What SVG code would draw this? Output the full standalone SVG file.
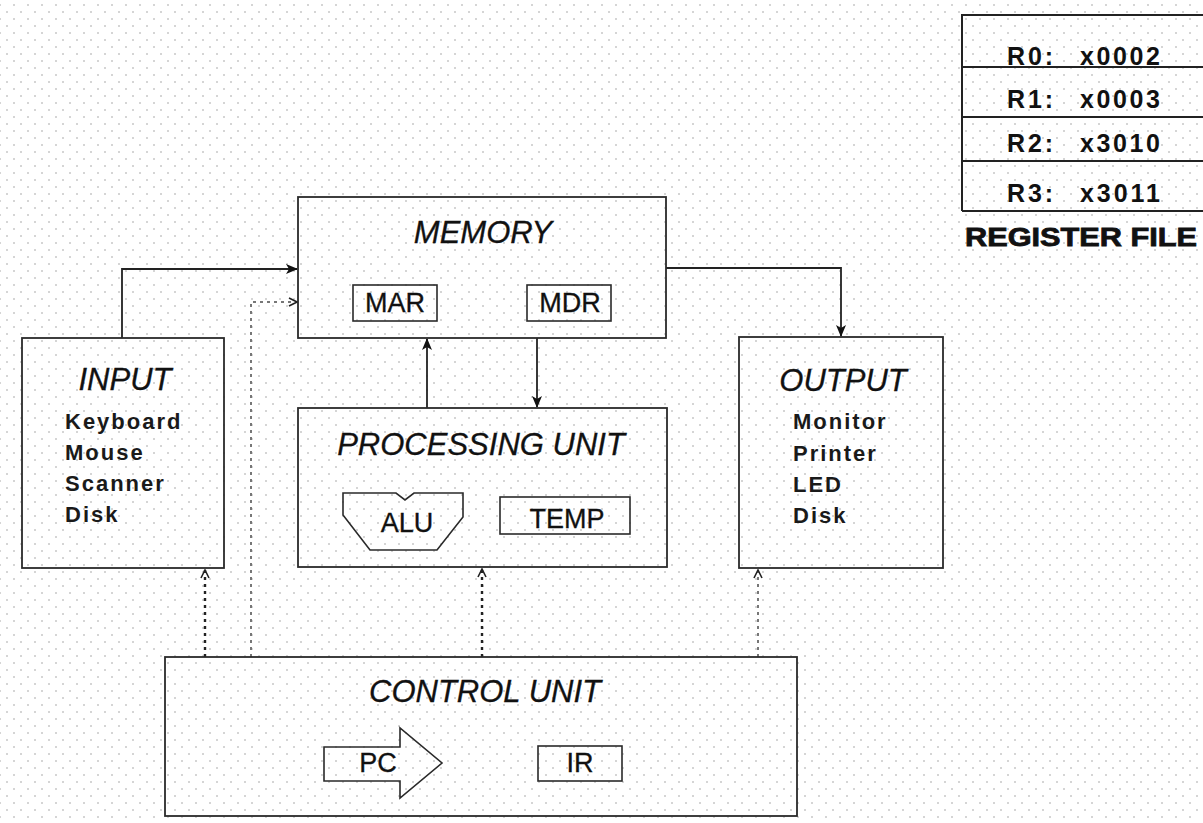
<svg xmlns="http://www.w3.org/2000/svg" width="1203" height="823" viewBox="0 0 1203 823">
<defs>
<pattern id="dots" patternUnits="userSpaceOnUse" width="14" height="14">
<rect x="-0.75" y="4.25" width="1.5" height="1.5" fill="#b4b4b4"/>
<rect x="13.25" y="4.25" width="1.5" height="1.5" fill="#b4b4b4"/>
<rect x="6.25" y="11.25" width="1.5" height="1.5" fill="#b4b4b4"/>
</pattern>
<marker id="solid" viewBox="0 0 12 10" refX="11" refY="5" markerWidth="12" markerHeight="10" markerUnits="userSpaceOnUse" orient="auto">
<path d="M0,0 L12,5 L0,10 L3,5 Z" fill="#111"/>
</marker>
<marker id="open" viewBox="0 0 10 10" refX="9" refY="5" markerWidth="10" markerHeight="10" markerUnits="userSpaceOnUse" orient="auto">
<path d="M1,1 L9,5 L1,9" fill="none" stroke="#222" stroke-width="1.6"/>
</marker>
</defs>
<style>
.box{fill:none;stroke:#2a2a2a;stroke-width:1.8}
.sub{fill:none;stroke:#2a2a2a;stroke-width:1.6}
.title{font-family:"Liberation Sans",Arial,sans-serif;font-style:italic;font-size:31px;fill:#111;text-anchor:middle;stroke:#111;stroke-width:0.3}
.lbl{font-family:"Liberation Sans",Arial,sans-serif;font-size:27px;fill:#111;text-anchor:middle;stroke:#111;stroke-width:0.3}
.list{font-family:"Liberation Sans",Arial,sans-serif;font-weight:bold;font-size:22px;fill:#1a1a1a;letter-spacing:2px}
.reg{font-family:"Liberation Sans",Arial,sans-serif;font-weight:bold;font-size:25px;fill:#111}
.conn{fill:none;stroke:#222;stroke-width:1.8}
.dot{fill:none;stroke:#222;stroke-width:2.4;stroke-dasharray:3 4}
.dotl{fill:none;stroke:#777;stroke-width:2;stroke-dasharray:3 4}
</style>
<rect width="1203" height="823" fill="#fff"/>
<rect width="1203" height="823" fill="url(#dots)"/>

<g id="connectors">
<path class="conn" d="M122,338 V269 H297" marker-end="url(#solid)"/>
<path class="conn" d="M666,268 H841 V336" marker-end="url(#solid)"/>
<path class="conn" d="M427,408 V339" marker-end="url(#solid)"/>
<path class="conn" d="M537,338 V407" marker-end="url(#solid)"/>
<path class="dot" d="M205,657 V570" marker-end="url(#open)"/>
<path class="dotl" d="M251,657 V302 H297" marker-end="url(#open)"/>
<path class="dot" d="M482,657 V569" marker-end="url(#open)"/>
<path class="dotl" d="M758,657 V570" marker-end="url(#open)"/>
</g>

<g id="register-file">
<path d="M962,211 V15 H1203 M962,67 H1203 M962,117 H1203 M962,161 H1203 M962,211 H1203" fill="none" stroke="#222" stroke-width="2"/>
<text class="reg" x="1007" y="65" textLength="46" lengthAdjust="spacing">R0:</text>
<text class="reg" x="1080" y="65" textLength="80" lengthAdjust="spacing">x0002</text>
<text class="reg" x="1007" y="108" textLength="46" lengthAdjust="spacing">R1:</text>
<text class="reg" x="1080" y="108" textLength="80" lengthAdjust="spacing">x0003</text>
<text class="reg" x="1007" y="152" textLength="46" lengthAdjust="spacing">R2:</text>
<text class="reg" x="1080" y="152" textLength="80" lengthAdjust="spacing">x3010</text>
<text class="reg" x="1007" y="202" textLength="46" lengthAdjust="spacing">R3:</text>
<text class="reg" x="1080" y="202" textLength="80" lengthAdjust="spacing">x3011</text>
<text x="965" y="246" font-family="'Liberation Sans',Arial,sans-serif" font-weight="bold" font-size="26" fill="#111" stroke="#111" stroke-width="0.8" textLength="232" lengthAdjust="spacingAndGlyphs">REGISTER FILE</text>
</g>

<g id="memory">
<rect class="box" x="298" y="197" width="368" height="141"/>
<text class="title" x="483" y="243">MEMORY</text>
<rect class="sub" x="353" y="285" width="84" height="36"/>
<text class="lbl" x="395" y="312">MAR</text>
<rect class="sub" x="527" y="285" width="84" height="36"/>
<text class="lbl" x="570" y="312">MDR</text>
</g>

<g id="input">
<rect class="box" x="22" y="338" width="202" height="230"/>
<text class="title" x="125" y="390">INPUT</text>
<text class="list" x="65" y="429">Keyboard</text>
<text class="list" x="65" y="460">Mouse</text>
<text class="list" x="65" y="491">Scanner</text>
<text class="list" x="65" y="522">Disk</text>
</g>

<g id="output">
<rect class="box" x="739" y="337" width="204" height="231"/>
<text class="title" x="843" y="391">OUTPUT</text>
<text class="list" x="793" y="429">Monitor</text>
<text class="list" x="793" y="461">Printer</text>
<text class="list" x="793" y="492">LED</text>
<text class="list" x="793" y="523">Disk</text>
</g>

<g id="processing-unit">
<rect class="box" x="298" y="408" width="369" height="159"/>
<text class="title" x="481" y="455">PROCESSING UNIT</text>
<polygon class="sub" points="343,493 396,493 405,500 414,493 463,493 463,517 437,550 370,550 343,515"/>
<text class="lbl" x="407" y="532">ALU</text>
<rect class="sub" x="500" y="497" width="130" height="37"/>
<text class="lbl" x="567" y="528">TEMP</text>
</g>

<g id="control-unit">
<rect class="box" x="165" y="657" width="632" height="159"/>
<text class="title" x="485" y="702">CONTROL UNIT</text>
<polygon class="sub" points="324,747 400,747 400,728 442,763 400,798 400,781 324,781"/>
<text class="lbl" x="378" y="772">PC</text>
<rect class="sub" x="538" y="746" width="84" height="35"/>
<text class="lbl" x="580" y="772">IR</text>
</g>
</svg>
